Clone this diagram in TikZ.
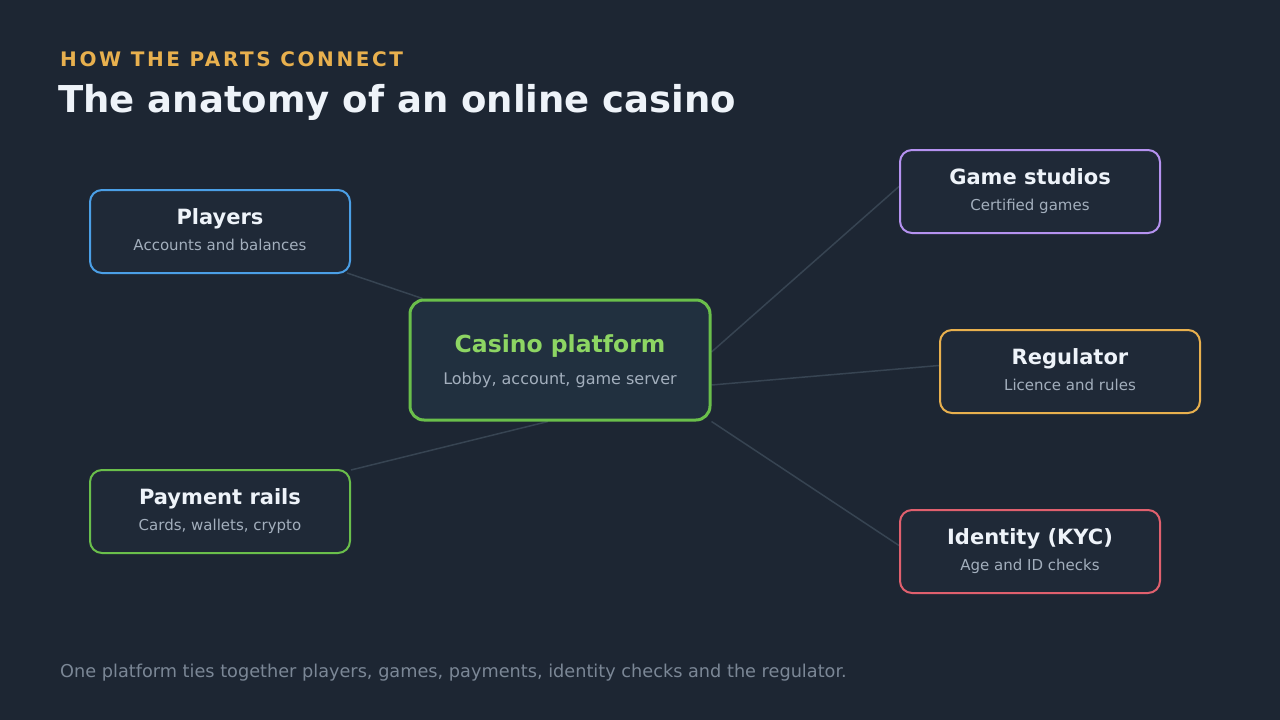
\documentclass[tikz,border=0pt]{standalone}
\usepackage{fontspec}
\setmainfont{DejaVu Sans}
\usetikzlibrary{calc, backgrounds}

\definecolor{bgcol}{HTML}{1D2633}
\definecolor{boxfill}{HTML}{1F2937}
\definecolor{hubfill}{HTML}{21303F}
\definecolor{linkcol}{HTML}{374452}
\definecolor{txtwhite}{HTML}{EEF3F9}
\definecolor{txtsub}{HTML}{A3AFBD}
\definecolor{txtfoot}{HTML}{7B8796}
\definecolor{cblue}{HTML}{4B9FE6}
\definecolor{cgreen}{HTML}{6ABF4B}
\definecolor{cgreenlt}{HTML}{8DD563}
\definecolor{cpurple}{HTML}{B592F0}
\definecolor{camber}{HTML}{E8B04E}
\definecolor{cred}{HTML}{E0606E}

\tikzset{
  part/.style={draw=#1, fill=boxfill, line width=2pt, rounded corners=12pt,
    minimum width=260pt, minimum height=83pt, inner sep=0pt},
  hub/.style={draw=cgreen, fill=hubfill, line width=3pt, rounded corners=14pt,
    minimum width=300pt, minimum height=120pt, inner sep=0pt},
  ttl/.style={anchor=base, text=txtwhite, inner sep=0pt,
    font=\bfseries\fontsize{21}{25}\selectfont},
  sub/.style={anchor=base, text=txtsub, inner sep=0pt,
    font=\fontsize{15}{18}\selectfont},
  link/.style={draw=linkcol, line width=1.5pt},
}

\begin{document}
\begin{tikzpicture}[x=1pt, y=-1pt]
  \useasboundingbox (0,0) rectangle (1280,720);

  % heading
  \node[anchor=base west, inner sep=0pt, text=camber,
    font=\bfseries\fontsize{20}{24}\selectfont\addfontfeature{LetterSpace=13}]
    (kicker) at (60,66) {HOW THE PARTS CONNECT};
  \node[anchor=base west, inner sep=0pt, text=txtwhite,
    font=\bfseries\fontsize{37}{44}\selectfont]
    (title) at (58,112) {The anatomy of an online casino};

  % the hub
  \node[hub] (platform) at (560,360) {};
  \node[ttl, text=cgreenlt, font=\bfseries\fontsize{23.5}{28}\selectfont]
    (platform-t) at ($(platform.center)+(0,-7.5)$) {Casino platform};
  \node[sub, font=\fontsize{16}{19}\selectfont]
    (platform-s) at ($(platform.center)+(0,24)$) {Lobby, account, game server};

  % parts round it
  \node[part=cblue] (players) at (220,231.5) {};
  \node[ttl] (players-t) at ($(players.center)+(0,-7.5)$) {Players};
  \node[sub] (players-s) at ($(players.center)+(0,18.5)$) {Accounts and balances};

  \node[part=cgreen] (payment) at (220,511.5) {};
  \node[ttl] (payment-t) at ($(payment.center)+(0,-7.5)$) {Payment rails};
  \node[sub] (payment-s) at ($(payment.center)+(0,18.5)$) {Cards, wallets, crypto};

  \node[part=cpurple] (studios) at (1030,191.5) {};
  \node[ttl] (studios-t) at ($(studios.center)+(0,-7.5)$) {Game studios};
  \node[sub] (studios-s) at ($(studios.center)+(0,18.5)$) {Certified games};

  \node[part=camber] (regulator) at (1070,371.5) {};
  \node[ttl] (regulator-t) at ($(regulator.center)+(0,-7.5)$) {Regulator};
  \node[sub] (regulator-s) at ($(regulator.center)+(0,18.5)$) {Licence and rules};

  \node[part=cred] (identity) at (1030,551.5) {};
  \node[ttl] (identity-t) at ($(identity.center)+(0,-7.5)$) {Identity (KYC)};
  \node[sub] (identity-s) at ($(identity.center)+(0,18.5)$) {Age and ID checks};

  % footer
  \node[anchor=base west, inner sep=0pt, text=txtfoot,
    font=\fontsize{17.7}{21}\selectfont]
    (footer) at (60,677) {One platform ties together players, games, payments, identity checks and the regulator.};

  % backdrop and links behind the boxes
  \begin{pgfonlayer}{background}
    \fill[bgcol] (0,0) rectangle (1280,720);
    \draw[link] ($(players.south east)+(-4,-1)$) -- ($(platform.north west)+(14,0)$);
    \draw[link] ($(payment.north east)+(0,1)$) -- ($(platform.south)+(-12,0)$);
    \draw[link] ($(platform.east)+(0,-8)$) -- ($(studios.west)+(0,-5)$);
    \draw[link] ($(platform.east)+(0,25)$) -- ($(regulator.west)+(0,-6)$);
    \draw[link] (platform.south east) -- ($(identity.west)+(0,-6)$);
  \end{pgfonlayer}

\end{tikzpicture}
\end{document}
